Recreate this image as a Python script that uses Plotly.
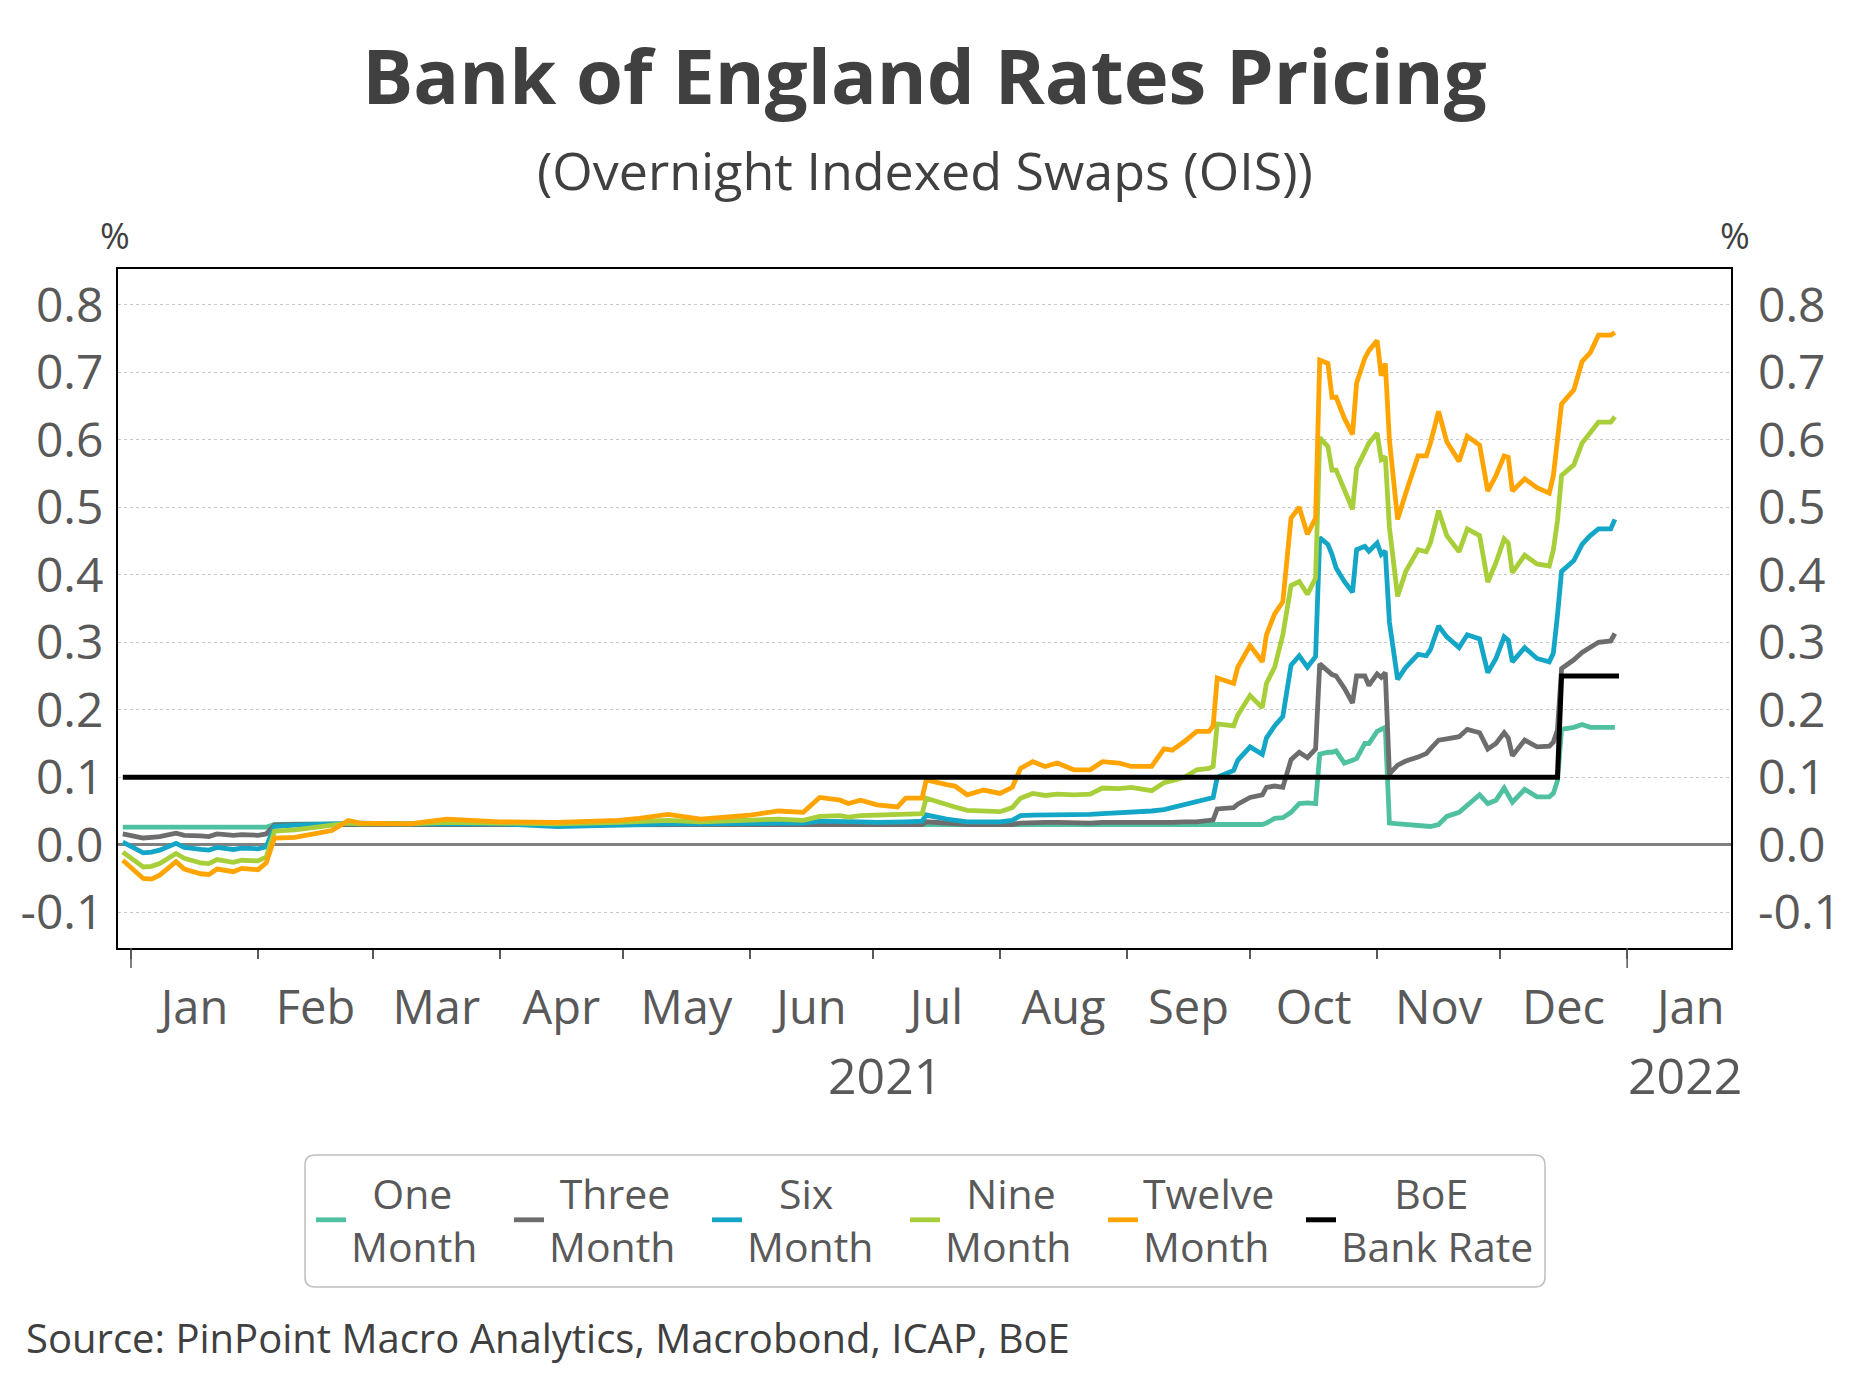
import plotly.graph_objects as go

# ---------------- data ----------------
dates = [
    "2020-12-30", "2021-01-04", "2021-01-06", "2021-01-08", "2021-01-12", "2021-01-14",
    "2021-01-18", "2021-01-20", "2021-01-22", "2021-01-26", "2021-01-28", "2021-02-01",
    "2021-02-03", "2021-02-05", "2021-02-10", "2021-02-15", "2021-02-19", "2021-02-23",
    "2021-02-26", "2021-03-10", "2021-03-19", "2021-04-01", "2021-04-15", "2021-04-30",
    "2021-05-05", "2021-05-12", "2021-05-20", "2021-06-01", "2021-06-08", "2021-06-14",
    "2021-06-18", "2021-06-23", "2021-06-25", "2021-06-28", "2021-07-02", "2021-07-07",
    "2021-07-09", "2021-07-13", "2021-07-14", "2021-07-19", "2021-07-21", "2021-07-24",
    "2021-07-28", "2021-08-01", "2021-08-04", "2021-08-06", "2021-08-09", "2021-08-12",
    "2021-08-15", "2021-08-19", "2021-08-23", "2021-08-26", "2021-08-30", "2021-09-02",
    "2021-09-07", "2021-09-10", "2021-09-12", "2021-09-15", "2021-09-18", "2021-09-21",
    "2021-09-22", "2021-09-23", "2021-09-27", "2021-09-28", "2021-10-01", "2021-10-04",
    "2021-10-05", "2021-10-07", "2021-10-09", "2021-10-11", "2021-10-13", "2021-10-15",
    "2021-10-17", "2021-10-18", "2021-10-20", "2021-10-21", "2021-10-22", "2021-10-24",
    "2021-10-26", "2021-10-27", "2021-10-29", "2021-10-30", "2021-11-01", "2021-11-02",
    "2021-11-03", "2021-11-04", "2021-11-06", "2021-11-08", "2021-11-11", "2021-11-13",
    "2021-11-14", "2021-11-16", "2021-11-18", "2021-11-21", "2021-11-23", "2021-11-26",
    "2021-11-28", "2021-11-30", "2021-12-02", "2021-12-03", "2021-12-04", "2021-12-07",
    "2021-12-10", "2021-12-13", "2021-12-14", "2021-12-15", "2021-12-16", "2021-12-19",
    "2021-12-21", "2021-12-23", "2021-12-25", "2021-12-28", "2021-12-29",
]

one_month = [
    0.026, 0.026, 0.026, 0.025, 0.026, 0.026, 0.025, 0.025, 0.025, 0.025, 0.025, 0.025,
    0.026, 0.030, 0.031, 0.031, 0.031, 0.031, 0.031, 0.031, 0.031, 0.031, 0.029, 0.030,
    0.030, 0.030, 0.030, 0.030, 0.030, 0.030, 0.030, 0.030, 0.030, 0.030, 0.030, 0.030,
    0.030, 0.030, 0.030, 0.030, 0.030, 0.030, 0.030, 0.030, 0.030, 0.030, 0.030, 0.030,
    0.030, 0.030, 0.030, 0.030, 0.030, 0.030,
    0.030, 0.030, 0.030, 0.030, 0.030, 0.030, 0.030, 0.030, 0.030, 0.030, 0.030, 0.030,
    0.032, 0.039, 0.040, 0.048, 0.061, 0.062, 0.061, 0.134, 0.137, 0.137, 0.139, 0.121,
    0.125, 0.128, 0.150, 0.150, 0.168, 0.172, 0.174, 0.032, 0.031, 0.030, 0.029, 0.028,
    0.027, 0.030, 0.042, 0.048, 0.058, 0.074, 0.061, 0.066, 0.084, 0.075, 0.063, 0.082,
    0.071, 0.071, 0.076, 0.095, 0.171, 0.174, 0.178, 0.174, 0.174, 0.174, 0.174,
]

three_month = [
    0.016, 0.010, 0.011, 0.012, 0.017, 0.014, 0.013, 0.012, 0.016, 0.014, 0.015, 0.014,
    0.016, 0.029, 0.030, 0.030, 0.031, 0.031, 0.031, 0.031, 0.031, 0.031, 0.030, 0.031,
    0.031, 0.031, 0.031, 0.031, 0.031, 0.031, 0.031, 0.031, 0.031, 0.030, 0.030, 0.030,
    0.030, 0.030, 0.034, 0.032, 0.031, 0.030, 0.030, 0.030, 0.030, 0.032, 0.033, 0.033,
    0.033, 0.032, 0.032, 0.033, 0.033, 0.033,
    0.032, 0.032, 0.033, 0.034, 0.034, 0.036, 0.037, 0.053, 0.055, 0.060, 0.070, 0.074,
    0.085, 0.087, 0.085, 0.126, 0.137, 0.129, 0.142, 0.268, 0.258, 0.252, 0.250, 0.232,
    0.210, 0.250, 0.250, 0.236, 0.253, 0.248, 0.255, 0.105, 0.118, 0.124, 0.130, 0.135,
    0.142, 0.155, 0.157, 0.160, 0.171, 0.166, 0.142, 0.150, 0.166, 0.158, 0.132, 0.155,
    0.145, 0.146, 0.152, 0.170, 0.261, 0.274, 0.285, 0.293, 0.300, 0.302, 0.313,
]

six_month = [
    0.004, -0.012, -0.011, -0.008, 0.002, -0.004, -0.007, -0.008, -0.004, -0.007, -0.005, -0.006,
    -0.003, 0.027, 0.029, 0.030, 0.031, 0.032, 0.032, 0.031, 0.031, 0.031, 0.027, 0.030,
    0.030, 0.031, 0.031, 0.031, 0.031, 0.032, 0.035, 0.035, 0.034, 0.034, 0.033, 0.033,
    0.034, 0.035, 0.044, 0.038, 0.036, 0.034, 0.034, 0.034, 0.036, 0.043, 0.044, 0.044,
    0.045, 0.045, 0.045, 0.046, 0.047, 0.048,
    0.050, 0.052, 0.055, 0.058, 0.064, 0.067, 0.070, 0.100, 0.110, 0.125, 0.145, 0.134,
    0.158, 0.176, 0.190, 0.266, 0.280, 0.263, 0.279, 0.455, 0.445, 0.430, 0.410, 0.390,
    0.374, 0.437, 0.442, 0.435, 0.447, 0.430, 0.435, 0.330, 0.245, 0.263, 0.282, 0.280,
    0.289, 0.324, 0.308, 0.292, 0.311, 0.305, 0.255, 0.276, 0.308, 0.303, 0.271, 0.292,
    0.276, 0.271, 0.284, 0.340, 0.405, 0.421, 0.445, 0.458, 0.468, 0.468, 0.482,
]

nine_month = [
    -0.011, -0.033, -0.032, -0.028, -0.013, -0.020, -0.027, -0.028, -0.022, -0.026, -0.023, -0.024,
    -0.018, 0.020, 0.022, 0.026, 0.028, 0.032, 0.031, 0.031, 0.033, 0.032, 0.031, 0.033,
    0.034, 0.036, 0.034, 0.036, 0.038, 0.036, 0.042, 0.043, 0.041, 0.043, 0.044, 0.044,
    0.045, 0.046, 0.069, 0.059, 0.056, 0.051, 0.050, 0.049, 0.055, 0.069, 0.076, 0.073,
    0.075, 0.074, 0.075, 0.084, 0.083, 0.085,
    0.080, 0.092, 0.095, 0.100, 0.111, 0.113, 0.116, 0.179, 0.176, 0.192, 0.221, 0.203,
    0.239, 0.263, 0.311, 0.384, 0.390, 0.371, 0.395, 0.603, 0.590, 0.555, 0.555, 0.524,
    0.497, 0.558, 0.584, 0.595, 0.610, 0.571, 0.575, 0.470, 0.368, 0.405, 0.437, 0.434,
    0.447, 0.495, 0.458, 0.434, 0.468, 0.458, 0.389, 0.418, 0.453, 0.447, 0.403, 0.429,
    0.416, 0.413, 0.437, 0.480, 0.547, 0.563, 0.595, 0.610, 0.626, 0.626, 0.634,
]

twelve_month = [
    -0.023, -0.050, -0.051, -0.045, -0.025, -0.036, -0.043, -0.044, -0.036, -0.040, -0.035, -0.037,
    -0.027, 0.010, 0.011, 0.016, 0.021, 0.036, 0.032, 0.031, 0.038, 0.034, 0.033, 0.036,
    0.039, 0.045, 0.038, 0.044, 0.050, 0.048, 0.070, 0.066, 0.061, 0.066, 0.059, 0.056,
    0.069, 0.069, 0.096, 0.089, 0.087, 0.074, 0.081, 0.076, 0.085, 0.113, 0.123, 0.116,
    0.121, 0.111, 0.111, 0.123, 0.121, 0.116,
    0.116, 0.142, 0.140, 0.153, 0.168, 0.168, 0.176, 0.247, 0.239, 0.263, 0.295, 0.271,
    0.311, 0.342, 0.360, 0.484, 0.500, 0.460, 0.484, 0.718, 0.713, 0.663, 0.663, 0.632,
    0.608, 0.684, 0.721, 0.732, 0.747, 0.695, 0.713, 0.600, 0.482, 0.521, 0.576, 0.576,
    0.595, 0.642, 0.597, 0.568, 0.605, 0.592, 0.524, 0.547, 0.576, 0.574, 0.524, 0.542,
    0.529, 0.521, 0.547, 0.600, 0.653, 0.674, 0.716, 0.729, 0.755, 0.755, 0.759,
]

bank_rate_dates = ["2020-12-30", "2021-12-15", "2021-12-16", "2021-12-30"]
bank_rate = [0.10, 0.10, 0.25, 0.25]

NB = "\u00a0"
series_names = [
    NB * 2 + "One<br>Month",
    NB + "Three<br>Month",
    NB * 3 + "Six<br>Month",
    NB * 2 + "Nine<br>Month",
    "Twelve<br>Month",
]
bank_rate_name = NB * 5 + "BoE<br>Bank Rate"
series_values = [one_month, three_month, six_month, nine_month, twelve_month]
series_colors = ["#4FC1A1", "#6D6D6D", "#14A6C6", "#A8CF3A", "#FFA400"]

y_ticks = [-0.1, 0.0, 0.1, 0.2, 0.3, 0.4, 0.5, 0.6, 0.7, 0.8]
y_tick_labels = ["-0.1", "0.0", "0.1", "0.2", "0.3", "0.4", "0.5", "0.6", "0.7", "0.8"]

for s in series_values:
    assert len(s) == len(dates), (len(s), len(dates))

# ---------------- layout constants ----------------
W, H = 1852, 1389
ML, MR, MT, MB = 118, 121, 269, 441
PW, PH = W - ML - MR, H - MT - MB
FONT = "Open Sans"
GREY = "#595959"
DARK = "#404040"
Y_RANGE = [-0.153, 0.853]
X_RANGE = ["2020-12-28 20:00", "2022-01-26 08:00"]
LEG_X0 = 311        # pixel left of the legend
LEG_PITCH = 198     # pixel pitch of legend entries


def px_x(px):
    return (px - ML) / PW


def px_y(py):
    return (H - MB - py) / PH


fig = go.Figure()

for name, vals, col in zip(series_names, series_values, series_colors):
    fig.add_trace(go.Scatter(
        x=dates, y=vals, name=name, mode="lines",
        line=dict(color=col, width=4.8), yaxis="y", legend="legend",
    ))

fig.add_trace(go.Scatter(
    x=bank_rate_dates, y=bank_rate, name=bank_rate_name, mode="lines",
    line=dict(color="#000000", width=5), yaxis="y2", legend="legend2",
))

# rounded legend frame
x0, x1 = px_x(305), px_x(1545)
y1, y0 = px_y(1155), px_y(1287)
rx, ry = 10 / PW, 10 / PH
path = (f"M {x0+rx},{y1} L {x1-rx},{y1} Q {x1},{y1} {x1},{y1-ry} "
        f"L {x1},{y0+ry} Q {x1},{y0} {x1-rx},{y0} L {x0+rx},{y0} "
        f"Q {x0},{y0} {x0},{y0+ry} L {x0},{y1-ry} Q {x0},{y1} {x0+rx},{y1} Z")

shapes = [
    dict(type="path", path=path, xref="paper", yref="paper",
         line=dict(color="#BFBFBF", width=1.5), fillcolor="rgba(0,0,0,0)", layer="below"),
]
for yr in ["2021-01-01", "2022-01-01"]:
    shapes.append(dict(type="line", xref="x", yref="paper", x0=yr, x1=yr,
                       y0=0, y1=-20 / PH, line=dict(color=GREY, width=1.5)))

annotations = [
    dict(text="(Overnight Indexed Swaps (OIS))", xref="paper", yref="paper",
         x=px_x(W / 2 - 1), y=px_y(169), xanchor="center", yanchor="middle",
         showarrow=False, font=dict(family=FONT, size=52, color=DARK)),
    dict(text="%", xref="paper", yref="paper", x=px_x(115), y=px_y(236),
         xanchor="center", yanchor="middle", showarrow=False,
         font=dict(family=FONT, size=36, color=DARK)),
    dict(text="%", xref="paper", yref="paper", x=px_x(1735), y=px_y(236),
         xanchor="center", yanchor="middle", showarrow=False,
         font=dict(family=FONT, size=36, color=DARK)),
    dict(text="2021", xref="x", yref="paper", x="2021-07-04", y=px_y(1075),
         xanchor="center", yanchor="middle", showarrow=False,
         font=dict(family=FONT, size=50, color=GREY)),
    dict(text="2022", xref="x", yref="paper", x="2022-01-15", y=px_y(1075),
         xanchor="center", yanchor="middle", showarrow=False,
         font=dict(family=FONT, size=50, color=GREY)),
    dict(text="Source: PinPoint Macro Analytics, Macrobond, ICAP, BoE",
         xref="paper", yref="paper", x=px_x(24), y=px_y(1337),
         xanchor="left", yanchor="middle", showarrow=False,
         font=dict(family=FONT, size=40, color=DARK)),
]

legend_common = dict(
    orientation="h", yanchor="top", y=px_y(1160),
    font=dict(family=FONT, size=41, color=GREY),
    bgcolor="rgba(0,0,0,0)", borderwidth=0, valign="middle",
    traceorder="normal",
)

fig.update_layout(
    width=W, height=H,
    margin=dict(l=ML, r=MR, t=MT, b=MB, pad=0),
    paper_bgcolor="white", plot_bgcolor="white",
    font=dict(family=FONT, color=GREY),
    title=dict(text="<b>Bank of England Rates Pricing</b>", x=0.5, xanchor="center",
               xref="paper", y=1 - 77 / H, yref="container", yanchor="middle",
               font=dict(family=FONT, size=76, color=DARK)),
    xaxis=dict(
        type="date", range=X_RANGE, dtick="M1", tick0="2021-01-01",
        tickformat="%b", ticklabelmode="period",
        ticks="outside", ticklen=9, tickwidth=1.5, tickcolor=GREY,
        ticklabelstandoff=9,
        tickfont=dict(family=FONT, size=47, color=GREY),
        showline=True, linecolor="#000000", linewidth=2, mirror=True,
        showgrid=False, zeroline=False,
    ),
    yaxis=dict(
        range=Y_RANGE, tickvals=y_ticks, ticktext=y_tick_labels,
        ticks="", ticklabelstandoff=3,
        tickfont=dict(family=FONT, size=48, color=GREY),
        showline=True, linecolor="#000000", linewidth=2, mirror=True,
        showgrid=True, gridcolor="#C8C8C8", gridwidth=1, griddash="dot",
        zeroline=True, zerolinecolor="#808080", zerolinewidth=3,
    ),
    yaxis2=dict(
        range=Y_RANGE, tickvals=y_ticks, ticktext=y_tick_labels,
        overlaying="y", side="right", anchor="x",
        ticks="", ticklabelstandoff=26,
        tickfont=dict(family=FONT, size=48, color=GREY),
        showline=False, showgrid=False, zeroline=False,
    ),
    legend=dict(x=px_x(LEG_X0), xanchor="left",
                entrywidth=LEG_PITCH - 45, entrywidthmode="pixels", **legend_common),
    legend2=dict(x=px_x(LEG_X0 + 5 * LEG_PITCH), xanchor="left", **legend_common),
    shapes=shapes,
    annotations=annotations,
    showlegend=True,
)

fig.write_html(
    "out.html",
    config={"displayModeBar": False},
    post_script="document.body.style.margin='0';",
)
